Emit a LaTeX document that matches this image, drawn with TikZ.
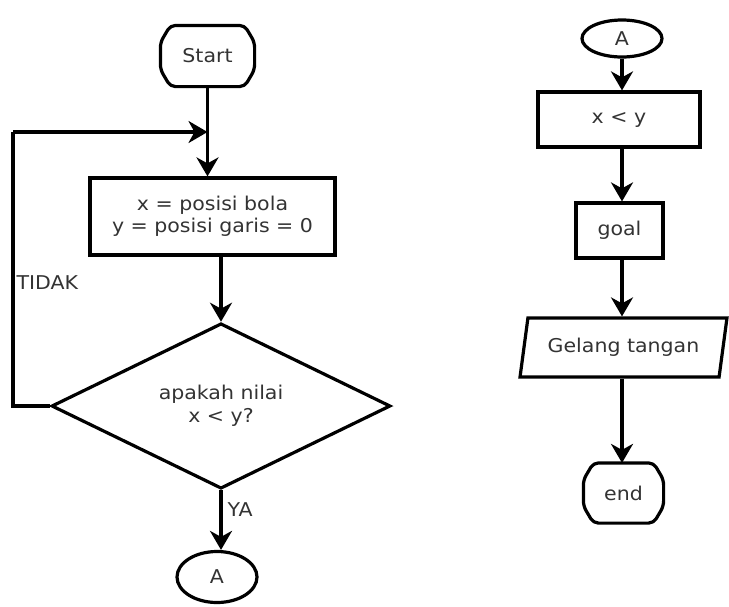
\documentclass[tikz,border=0pt]{standalone}
\usepackage{fontspec}
\setmainfont{DejaVu Sans}[FakeStretch=1.08]
\usetikzlibrary{shapes.geometric,arrows.meta,positioning}

\def\termcut{10pt}
\def\termside{17pt}
% terminal outline: flat top and bottom, bent sides
\def\drawterm#1{%
	\draw[line width=3.2pt, rounded corners=5pt]
	([xshift=\termcut]#1.north west) -- ([xshift=-\termcut]#1.north east)
	-- ([yshift=-\termside]#1.north east) -- ([yshift=\termside]#1.south east)
	-- ([xshift=-\termcut]#1.south east) -- ([xshift=\termcut]#1.south west)
	-- ([yshift=\termside]#1.south west) -- ([yshift=-\termside]#1.north west) -- cycle;}

\begin{document}
\begin{tikzpicture}[x=1pt,y=-1pt,line width=3.2pt,
	->,>={Stealth[length=19pt,width=22pt,inset=6pt]},
	font=\fontsize{19}{22.5}\selectfont,text=black!80]
	\tikzstyle{every node}=[inner sep=2pt]
	\tikzstyle{term}=[rectangle,minimum width=91pt,minimum height=58pt]
	\tikzstyle{process}=[rectangle,draw,minimum height=55pt,align=center]
	\tikzstyle{decision}=[diamond,draw,minimum width=339pt,minimum height=128pt,inner sep=0pt,align=center]
	\tikzstyle{connector}=[ellipse,draw,minimum width=80pt]
	\tikzstyle{io}=[trapezium,trapezium left angle=74,trapezium right angle=106,
		trapezium stretches=true,draw,minimum width=207pt,minimum height=59pt]
	\tikzstyle{annot}=[anchor=west]

	\useasboundingbox (0,0) rectangle (729,606);

	% Draw the left chart
	\node[term] (start) at (207.5,56) {Start};
	\drawterm{start}
	\node[process,minimum width=245pt,minimum height=77pt] (init) at (212.5,216.5)
		{x = posisi bola\\y = posisi garis = 0};
	\node[decision] (dec) at (221,406) {apakah nilai\\x < y?};
	\node[connector,minimum height=51pt] (A1) at (217,577) {A};

	% Draw the right chart
	\node[connector,minimum height=37pt] (A2) at (622,38.5) {A};
	\node[process,minimum width=162pt] (cmp) at (619,119.5) {x < y};
	\node[process,minimum width=87pt] (goal) at (619.5,230.5) {goal};
	\node[io] (band) at (623.5,347.5) {Gelang tangan};
	\node[term,minimum width=77pt,minimum height=57pt] (end) at (623.5,493) {end};
	\drawterm{end}

	% Connect the left chart
	\coordinate (join) at (207.5,132);
	\coordinate (back) at (13,132);
	\draw (start.south) -- (start.south |- init.north);
	\draw (dec.north |- init.south) -- (dec.north);
	\draw (dec.south) -- (dec.south |- A1.north);
	\draw[-] (dec.west) -| (back);
	\draw (back) -- (join);

	% Connect the right chart
	\draw (A2.south) -- (A2.south |- cmp.north);
	\draw (A2.south |- cmp.south) -- (A2.south |- goal.north);
	\draw (A2.south |- goal.south) -- (A2.south |- band.north);
	\draw (A2.south |- band.south) -- (A2.south |- end.north);

	% Annotate the branches
	\node[annot,fill=white,inner sep=1pt] (no) at (14,283) {TIDAK};
	\node[annot] (yes) at (224,510) {YA};

\end{tikzpicture}
\end{document}
